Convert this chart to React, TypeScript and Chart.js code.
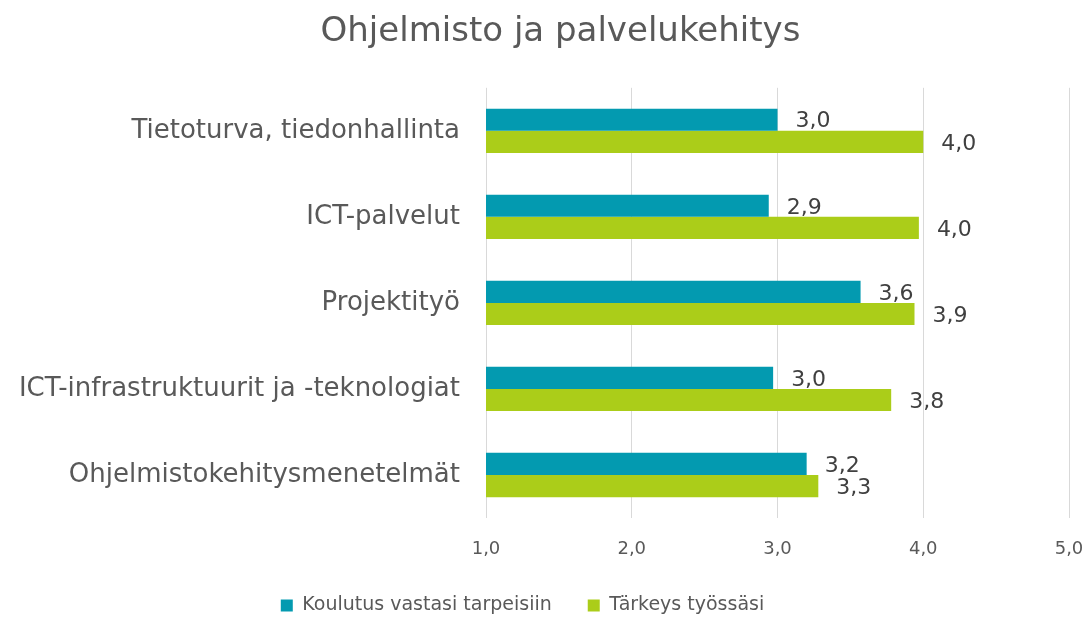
import React, { useEffect, useRef } from 'react';
import { Chart, registerables } from 'chart.js';

Chart.register(...registerables);

const chartTitle = 'Ohjelmisto ja palvelukehitys';
const categories = [
  'Tietoturva, tiedonhallinta',
  'ICT-palvelut',
  'Projektityö',
  'ICT-infrastruktuurit ja -teknologiat',
  'Ohjelmistokehitysmenetelmät',
];
const seriesNames = ['Koulutus vastasi tarpeisiin', 'Tärkeys työssäsi'];
const koulutus = [3.0, 2.94, 3.57, 2.97, 3.2];
const tarkeys = [4.0, 3.97, 3.94, 3.78, 3.28];
const xMin = 1;
const xMax = 5;
const xStep = 1;

const FONT = '"DejaVu Sans", Verdana, sans-serif';
const fmt = (v: number) => v.toFixed(1).replace('.', ',');

const dataLabels = {
  id: 'dataLabels',
  afterDatasetsDraw(chart: any) {
    const ctx = chart.ctx;
    ctx.save();
    ctx.font = `22px ${FONT}`;
    ctx.fillStyle = '#404040';
    ctx.textAlign = 'left';
    ctx.textBaseline = 'middle';
    chart.data.datasets.forEach((ds: any, i: number) => {
      const meta = chart.getDatasetMeta(i);
      meta.data.forEach((bar: any, j: number) => {
        ctx.fillText(fmt(ds.data[j]), bar.x + 18, bar.y + 2);
      });
    });
    ctx.restore();
  },
};

const boxShift = {
  id: 'boxShift',
  afterLayout(chart: any) {
    const lg = chart.legend;
    if (lg) {
      lg.left -= 17;
      lg.right -= 17;
      lg.top -= 2;
      lg.bottom -= 2;
    }
    const tb = chart.titleBlock;
    if (tb) {
      tb.left += 21;
      tb.right += 21;
    }
  },
};

export default function App() {
  const ref = useRef<HTMLCanvasElement>(null);
  useEffect(() => {
    if (!ref.current) return;
    const chart = new Chart(ref.current, {
      type: 'bar',
      data: {
        labels: categories,
        datasets: [
          { label: seriesNames[0], data: koulutus, backgroundColor: '#039AB0', borderWidth: 0 },
          { label: seriesNames[1], data: tarkeys, backgroundColor: '#ABCD19', borderWidth: 0 },
        ],
      },
      options: {
        indexAxis: 'y',
        animation: false,
        responsive: true,
        maintainAspectRatio: false,
        categoryPercentage: 0.515,
        barPercentage: 1,
        layout: { padding: { left: 10, right: 22, top: 0, bottom: -10 } },
        scales: {
          x: {
            min: xMin,
            max: xMax,
            ticks: {
              stepSize: xStep,
              callback: (v: any) => fmt(Number(v)),
              font: { family: FONT, size: 18 },
              color: '#595959',
              padding: 21,
              maxRotation: 0,
            },
            grid: { color: '#d9d9d9', lineWidth: 1, drawTicks: false },
            border: { display: false },
            afterFit: (s: any) => {
              s.height = 44;
              s.paddingRight = 0;
              s.paddingLeft = 0;
            },
          },
          y: {
            ticks: {
              font: { family: FONT, size: 26 },
              color: '#595959',
              padding: 26,
              autoSkip: false,
            },
            grid: { display: false, drawTicks: false },
            border: { display: false },
            afterFit: (s: any) => { s.width = 476; },
          },
        },
        plugins: {
          title: {
            display: true,
            text: chartTitle,
            color: '#595959',
            font: { family: FONT, size: 34, weight: 'normal' },
            padding: { top: 12, bottom: 35 },
          },
          legend: {
            position: 'bottom',
            labels: {
              font: { family: FONT, size: 19 },
              color: '#595959',
              boxWidth: 12,
              boxHeight: 12,
              padding: 36,
            },
          },
          tooltip: { enabled: false },
        },
      },
      plugins: [dataLabels, boxShift],
    });
    return () => chart.destroy();
  }, []);
  return (
    <div style={{ position: 'absolute', left: 0, top: 0, width: 1091, height: 617, background: '#fff' }}>
      <canvas ref={ref} />
    </div>
  );
}
